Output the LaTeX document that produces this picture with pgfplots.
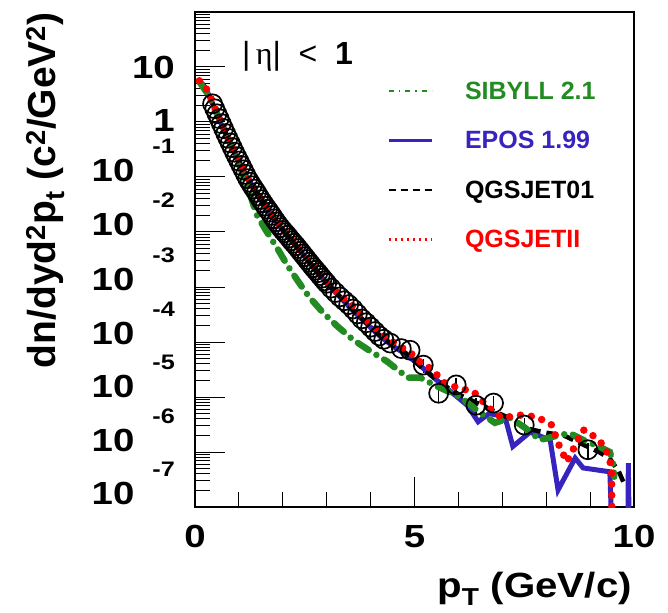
\documentclass[border=0pt]{standalone}
\usepackage{pgfplots}
\pgfplotsset{compat=1.18}
\usepackage{fontspec}
\setmainfont{Liberation Sans}
\newfontfamily\tickfont{Liberation Sans}[FakeStretch=1.2]
\newfontfamily\titlefont{Liberation Sans}[FakeStretch=1.15]
\newfontfamily\serifgreek{Liberation Serif}
\definecolor{sibgreen}{RGB}{34,139,34}
\definecolor{eposblue}{RGB}{55,35,190}
\definecolor{qred}{RGB}{255,0,0}
\newcommand{\tl}[2]{\raisebox{#2}{10\hspace{18pt}\raisebox{28pt}{\fontsize{21}{21}\selectfont #1}}}
\begin{document}
\begin{tikzpicture}
\path[use as bounding box] (-195pt,-105pt) rectangle (473pt,507pt);
\begin{axis}[
  width=439pt, height=495pt, scale only axis,
  xmin=0, xmax=10, ymin=1e-7, ymax=100, ymode=log,
  axis line style={line width=2pt},
  tick align=inside, tick pos=left,
  major tick length=30pt, minor tick length=15pt,
  every tick/.style={line width=1pt, black},
  xtick={0,5,10}, minor xtick={1,2,3,4,6,7,8,9},
  xticklabels={0,5,10},
  ytick={1e-7,1e-6,1e-5,1e-4,1e-3,1e-2,1e-1,1,10},
  minor ytick={2e-7,3e-7,4e-7,5e-7,6e-7,7e-7,8e-7,9e-7,
    2e-6,3e-6,4e-6,5e-6,6e-6,7e-6,8e-6,9e-6,
    2e-5,3e-5,4e-5,5e-5,6e-5,7e-5,8e-5,9e-5,
    2e-4,3e-4,4e-4,5e-4,6e-4,7e-4,8e-4,9e-4,
    2e-3,3e-3,4e-3,5e-3,6e-3,7e-3,8e-3,9e-3,
    2e-2,3e-2,4e-2,5e-2,6e-2,7e-2,8e-2,9e-2,
    0.2,0.3,0.4,0.5,0.6,0.7,0.8,0.9,
    2,3,4,5,6,7,8,9,
    20,30,40,50,60,70,80,90},
  yticklabels={\tl{-7}{3pt},\tl{-6}{1pt},\tl{-5}{0pt},\tl{-4}{-2pt},\tl{-3}{-3pt},\tl{-2}{-4pt},\tl{-1}{-5pt},\raisebox{-10pt}{1}\hspace{25pt},\raisebox{-12pt}{10}\hspace{25pt}},
  yticklabel style={anchor=base east, inner sep=0pt, xshift=-20pt, font=\tickfont\bfseries\fontsize{32}{32}\selectfont},
  xticklabel style={anchor=north, inner sep=0pt, yshift=-18pt, font=\tickfont\bfseries\fontsize{32}{32}\selectfont},
  every axis x label/.style={at={(axis description cs:1,0)}, anchor=base east, yshift=-90pt, xshift=-2pt, inner sep=0pt, font=\titlefont\bfseries\fontsize{35}{35}\selectfont},
  every axis y label/.style={at={(axis description cs:-0.3189,0.640)}, anchor=base, rotate=90, inner sep=0pt, font=\bfseries\fontsize{39}{39}\selectfont},
  xlabel={p\textsubscript{T} (GeV/c)},
  ylabel={dn/dyd\textsuperscript{2}p\textsubscript{t} (c\textsuperscript{2}/GeV\textsuperscript{2})},
  legend style={at={(axis description cs:0.4374,0.8606)}, anchor=north west, draw=none, fill=none, inner sep=0pt, outer sep=0pt, row sep=29.5pt, column sep=32pt, font=\bfseries\fontsize{25}{25}\selectfont, nodes={inner sep=0pt, text height=18pt, text depth=2pt}},
  legend cell align=left,
  legend image code/.code={\draw[#1] (0pt,0pt) -- (43pt,0pt);},
]
\addlegendimage{sibgreen, line width=2pt, dash pattern=on 5pt off 5pt on 1.5pt off 5pt}
\addlegendentry{\textcolor{sibgreen}{SIBYLL 2.1}}
\addlegendimage{eposblue, line width=3pt}
\addlegendentry{\textcolor{eposblue}{EPOS 1.99}}
\addlegendimage{black, line width=2.5pt, dash pattern=on 7pt off 5pt}
\addlegendentry{QGSJET01}
\addlegendimage{qred, line width=2.5pt, dash pattern=on 2pt off 4pt}
\addlegendentry{\textcolor{qred}{QGSJETII}}

% data
\addplot[forget plot, only marks, black, mark=o, mark size=9.5pt, mark options={line width=1.7pt},
  error bars/.cd, y dir=both, y explicit, error mark=none, error bar style={line width=1.5pt}]
  table[x=x, y=y, y error=e] {
x y e
0.4 2.14 0
0.45 1.74 0
0.5 1.41 0
0.55 1.15 0
0.6 0.933 0
0.65 0.759 0
0.7 0.617 0
0.75 0.507 0
0.8 0.417 0
0.85 0.343 0
0.9 0.282 0
0.95 0.234 0
1.0 0.195 0
1.05 0.162 0
1.1 0.135 0
1.15 0.112 0
1.2 0.0933 0
1.25 0.0804 0
1.3 0.0692 0
1.35 0.0603 0
1.4 0.0525 0
1.45 0.0452 0
1.5 0.0389 0
1.55 0.0339 0
1.6 0.0295 0
1.65 0.026 0
1.7 0.0229 0
1.75 0.02 0
1.8 0.0174 0
1.85 0.0153 0
1.9 0.0135 0
1.95 0.012 0
2.0 0.0107 0
2.05 0.00966 0
2.1 0.0087 0
2.15 0.00776 0
2.2 0.00692 0
2.25 0.00624 0
2.3 0.00562 0
2.35 0.00501 0
2.4 0.00447 0
2.45 0.00398 0
2.5 0.00355 0
2.55 0.00316 0
2.6 0.00282 0
2.65 0.00251 0
2.7 0.00224 0
2.75 0.00202 0
2.8 0.00182 0
2.85 0.00162 0
2.9 0.00145 0
2.95 0.0013 0
3.0 0.00117 0
3.1 9.55e-4 0
3.2 7.94e-4 0
3.3 6.61e-4 0
3.4 5.62e-4 0
3.5 4.79e-4 0
3.6 3.98e-4 0
3.7 3.24e-4 0
3.8 2.63e-4 0
3.9 2.24e-4 0
4.0 1.86e-4 0
4.1 1.55e-4 0
4.2 1.29e-4 0
4.3 1.12e-4 0
4.45 9.55e-5 0
4.7 7.59e-5 0
4.9 7.08e-5 0
5.2 3.80e-5 1.1e-5
5.55 1.17e-5 4.0e-6
5.95 1.66e-5 5.5e-6
6.4 7.08e-6 2.4e-6
6.8 7.76e-6 2.6e-6
7.5 3.09e-6 1.05e-6
8.95 1.10e-6 3.8e-7
};
% EPOS 1.99
\addplot[forget plot, eposblue, line width=5pt] coordinates {
(0.1,5.62) (0.2,4.57) (0.3,3.31) (0.4,2.14) (0.6,0.91) (0.8,0.40) (1.0,0.19) (1.2,0.093) (1.4,0.051) (1.6,0.0295) (1.8,0.0174) (2.0,0.0107) (2.2,0.0069) (2.4,0.00447) (2.6,0.0028) (2.8,0.0018) (3.0,0.00117) (3.3,6.6e-4) (3.6,3.7e-4) (3.9,2.2e-4) (4.2,1.3e-4) (4.5,8.5e-5) (4.8,6.0e-5) (5.1,3.9e-5) (5.5,2.04e-5) (5.9,1.12e-5) (6.2,7.08e-6) (6.45,3.55e-6) (6.7,5.01e-6) (7.06,4.37e-6) (7.24,1.26e-6) (7.63,2.29e-6) (8.09,1.66e-6) (8.27,2.04e-7) (8.66,7.76e-7) (8.84,5.13e-7) (9.45,4.37e-7) (9.52,1e-8) (9.86,1e-8) (9.87,6.3e-7) (9.9,1e-8)};
% QGSJET01
\addplot[forget plot, black, line width=4.5pt, dash pattern=on 11pt off 6pt] coordinates {
(0.1,5.62) (0.2,4.57) (0.3,3.31) (0.4,2.19) (0.6,0.933) (0.8,0.417) (1.0,0.195) (1.2,0.0955) (1.4,0.0525) (1.6,0.0302) (1.8,0.0178) (2.0,0.011) (2.2,0.00708) (2.4,0.00457) (2.6,0.00288) (2.8,0.00186) (3.0,0.0012) (3.3,6.76e-4) (3.6,3.80e-4) (3.9,2.24e-4) (4.2,1.35e-4) (4.5,8.91e-5) (4.8,6.31e-5) (5.1,3.80e-5) (5.4,2.40e-5) (5.7,1.585e-5) (6.0,1.12e-5) (6.4,7.94e-6) (6.8,5.62e-6) (7.2,3.98e-6) (7.6,2.63e-6) (8.0,2.24e-6) (8.4,2.0e-6) (8.8,1.41e-6) (9.2,1.0e-6) (9.45,7.59e-7) (9.65,4.47e-7) (9.8,2.40e-7)};
% SIBYLL 2.1
\addplot[forget plot, sibgreen, line width=6.5pt, line cap=round, dash pattern=on 13pt off 9pt on 0pt off 9pt] coordinates {
(0.1,5.37) (0.3,3.16) (0.5,1.41) (0.7,0.617) (0.9,0.275) (1.1,0.107) (1.25,0.0501) (1.4,0.0209) (1.6,0.0112) (1.87,0.00513) (2.1,0.00251) (2.35,0.00126) (2.6,6.61e-4) (2.92,3.39e-4) (3.25,1.91e-4) (3.6,1.10e-4) (4.0,6.76e-5) (4.37,4.47e-5) (4.85,2.24e-5) (5.13,2.24e-5) (5.5,1.585e-5) (6.04,1.0e-5) (6.42,5.75e-6) (6.83,3.39e-6) (7.18,4.17e-6) (7.5,2.82e-6) (7.86,1.66e-6) (8.31,2.04e-6) (8.54,2.19e-6) (8.84,1.66e-6) (9.2,1.26e-6) (9.45,1.0e-6) (9.52,6.31e-7) (9.55,3.55e-7)};
% QGSJETII
\addplot[forget plot, qred, line width=7.5pt, line cap=round, dash pattern=on 0pt off 11pt] coordinates {
(0.1,5.62) (0.2,4.79) (0.3,3.55) (0.4,2.29) (0.6,0.955) (0.8,0.417) (1.0,0.2) (1.2,0.0955) (1.4,0.0537) (1.6,0.0309) (1.8,0.0182) (2.0,0.0112) (2.2,0.00724) (2.4,0.00468) (2.6,0.00295) (2.8,0.00191) (3.0,0.00123) (3.3,7.0e-4) (3.53,5.13e-4) (3.9,2.51e-4) (4.28,1.35e-4) (4.6,8.9e-5) (4.9,6.5e-5) (5.1,4.5e-5) (5.42,3.09e-5) (5.65,1.86e-5) (6.0,1.45e-5) (6.34,1.26e-5) (6.7,6.3e-6) (6.99,4.17e-6) (7.4,4.68e-6) (7.78,4.37e-6) (8.13,3.09e-6) (8.27,1.45e-6) (8.47,6.61e-7) (8.84,2.51e-6) (8.95,2.4e-6) (9.34,1.26e-6) (9.49,5.37e-7) (9.5,1e-8)};
\end{axis}
\node[anchor=base west, inner sep=0pt, font=\fontsize{32}{32}\selectfont] at (47pt,442pt) {|\,{\serifgreek η}|\ \ <\ \ \textbf{1}};
\end{tikzpicture}
\end{document}
